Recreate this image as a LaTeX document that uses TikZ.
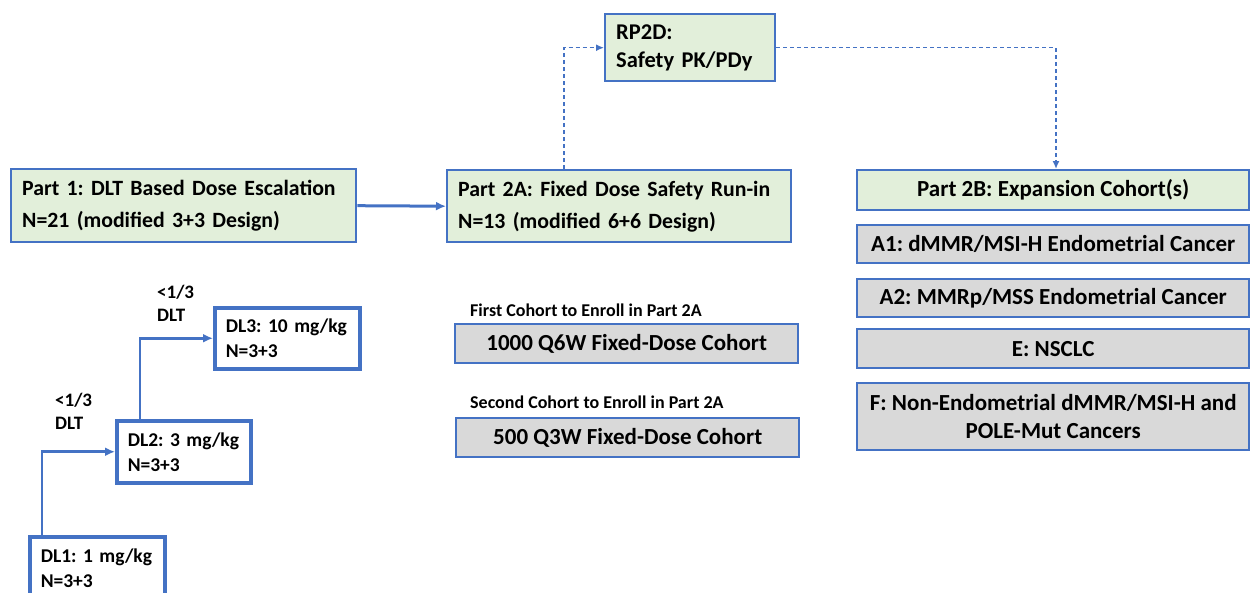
\documentclass[tikz,border=0pt]{standalone}
\usepackage{fontspec}
\setmainfont{Carlito}
\usetikzlibrary{arrows.meta,calc}
\definecolor{bblue}{HTML}{4472C4}
\definecolor{lgreen}{HTML}{E2EFDA}
\definecolor{lgray}{HTML}{D9D9D9}
\frenchspacing
\begin{document}
\frenchspacing
\begin{tikzpicture}[x=1pt,y=-1pt,
  partbox/.style={draw=bblue,line width=2.4pt,fill=lgreen,anchor=north west,inner ysep=0pt,inner xsep=11pt,align=left,font=\frenchspacing\bfseries\fontsize{21.8}{32}\selectfont},
  graybox/.style={draw=bblue,line width=2.4pt,fill=lgray,anchor=north west,inner sep=0pt,align=center,font=\frenchspacing\bfseries\fontsize{23}{28}\selectfont},
  dlbox/.style={draw=bblue,line width=3.5pt,fill=white,anchor=north west,inner ysep=0pt,inner xsep=11pt,align=left,font=\frenchspacing\bfseries\fontsize{19.5}{25}\selectfont},
  lbl/.style={anchor=north west,inner sep=0pt,align=left,font=\frenchspacing\bfseries\fontsize{19}{23}\selectfont},
  cohortlbl/.style={anchor=west,inner sep=0pt,font=\frenchspacing\bfseries\fontsize{18}{20}\selectfont},
  solidarrow/.style={draw=bblue,line width=3pt,-{Latex[length=10pt,width=9pt]}},
  dlarrow/.style={draw=bblue,line width=2.8pt,-{Latex[length=10pt,width=9pt]}},
  dasharrow/.style={draw=bblue,line width=1.5pt,dash pattern=on 4pt off 3pt,-{Latex[length=8pt,width=7pt]}}
]
\useasboundingbox (0,0) rectangle (1250,592);
\clip (0,0) rectangle (1250,592);

% Part boxes
\node[partbox,minimum width=345,minimum height=73,text width=323] (p1) at (10,168)
  {Part 1: DLT Based Dose Escalation\\N=21 (modified 3+3 Design)};
\node[partbox,minimum width=344,minimum height=72,text width=322] (p2a) at (446,169)
  {Part 2A: Fixed Dose Safety Run-in\\N=13 (modified 6+6 Design)};
\node[partbox,minimum width=170,minimum height=67,text width=148,font=\frenchspacing\bfseries\fontsize{22.5}{28}\selectfont] (rp) at (604,13)
  {RP2D:\\Safety PK/PDy};
\node[partbox,minimum width=392,minimum height=40,align=center,inner xsep=0pt,font=\frenchspacing\bfseries\fontsize{23}{28}\selectfont] (p2b) at (856,169)
  {Part 2B: Expansion Cohort(s)};

% Expansion cohorts
\node[graybox,minimum width=392,minimum height=38] (a1) at (856,224) {A1: dMMR/MSI-H Endometrial Cancer};
\node[graybox,minimum width=392,minimum height=38] (a2) at (856,278) {A2: MMRp/MSS Endometrial Cancer};
\node[graybox,minimum width=392,minimum height=39] (e) at (856,328) {E: NSCLC};
\node[graybox,minimum width=392,minimum height=67] (f) at (856,382) {F: Non-Endometrial dMMR/MSI-H and\\POLE-Mut Cancers};

% Part 2A cohorts
\node[cohortlbl] (c1l) at (470,310) {First Cohort to Enroll in Part 2A};
\node[graybox,minimum width=343,minimum height=39] (c1) at (454,323) {1000 Q6W Fixed-Dose Cohort};
\node[cohortlbl] (c2l) at (470,402) {Second Cohort to Enroll in Part 2A};
\node[graybox,minimum width=343,minimum height=39] (c2) at (455,417) {500 Q3W Fixed-Dose Cohort};

% Dose levels
\node[dlbox,minimum width=145,minimum height=61,text width=123] (dl3) at (213,306)
  {DL3: 10 mg/kg\\N=3+3};
\node[dlbox,minimum width=134,minimum height=62,text width=112] (dl2) at (115,419)
  {DL2: 3 mg/kg\\N=3+3};
\node[dlbox,minimum width=135,minimum height=62,text width=113] (dl1) at (28,535)
  {DL1: 1 mg/kg\\N=3+3};

\node[lbl] (t2) at (157,285) {<1/3\\DLT};
\node[lbl] (t1) at (55,393) {<1/3\\DLT};

% Connectors
\draw[solidarrow] (p1.east) -- (p2a.west);
\draw[dasharrow] ($(p2a.north west)+(118,0)$) |- (rp.west);
\draw[dasharrow] (rp.east) -| ($(p2b.north west)+(200,0)$);
\draw[dlarrow] ($(dl1.north west)+(14,0)$) |- (dl2.west);
\draw[dlarrow] ($(dl2.north west)+(25,0)$) |- (dl3.west);
\end{tikzpicture}
\end{document}
